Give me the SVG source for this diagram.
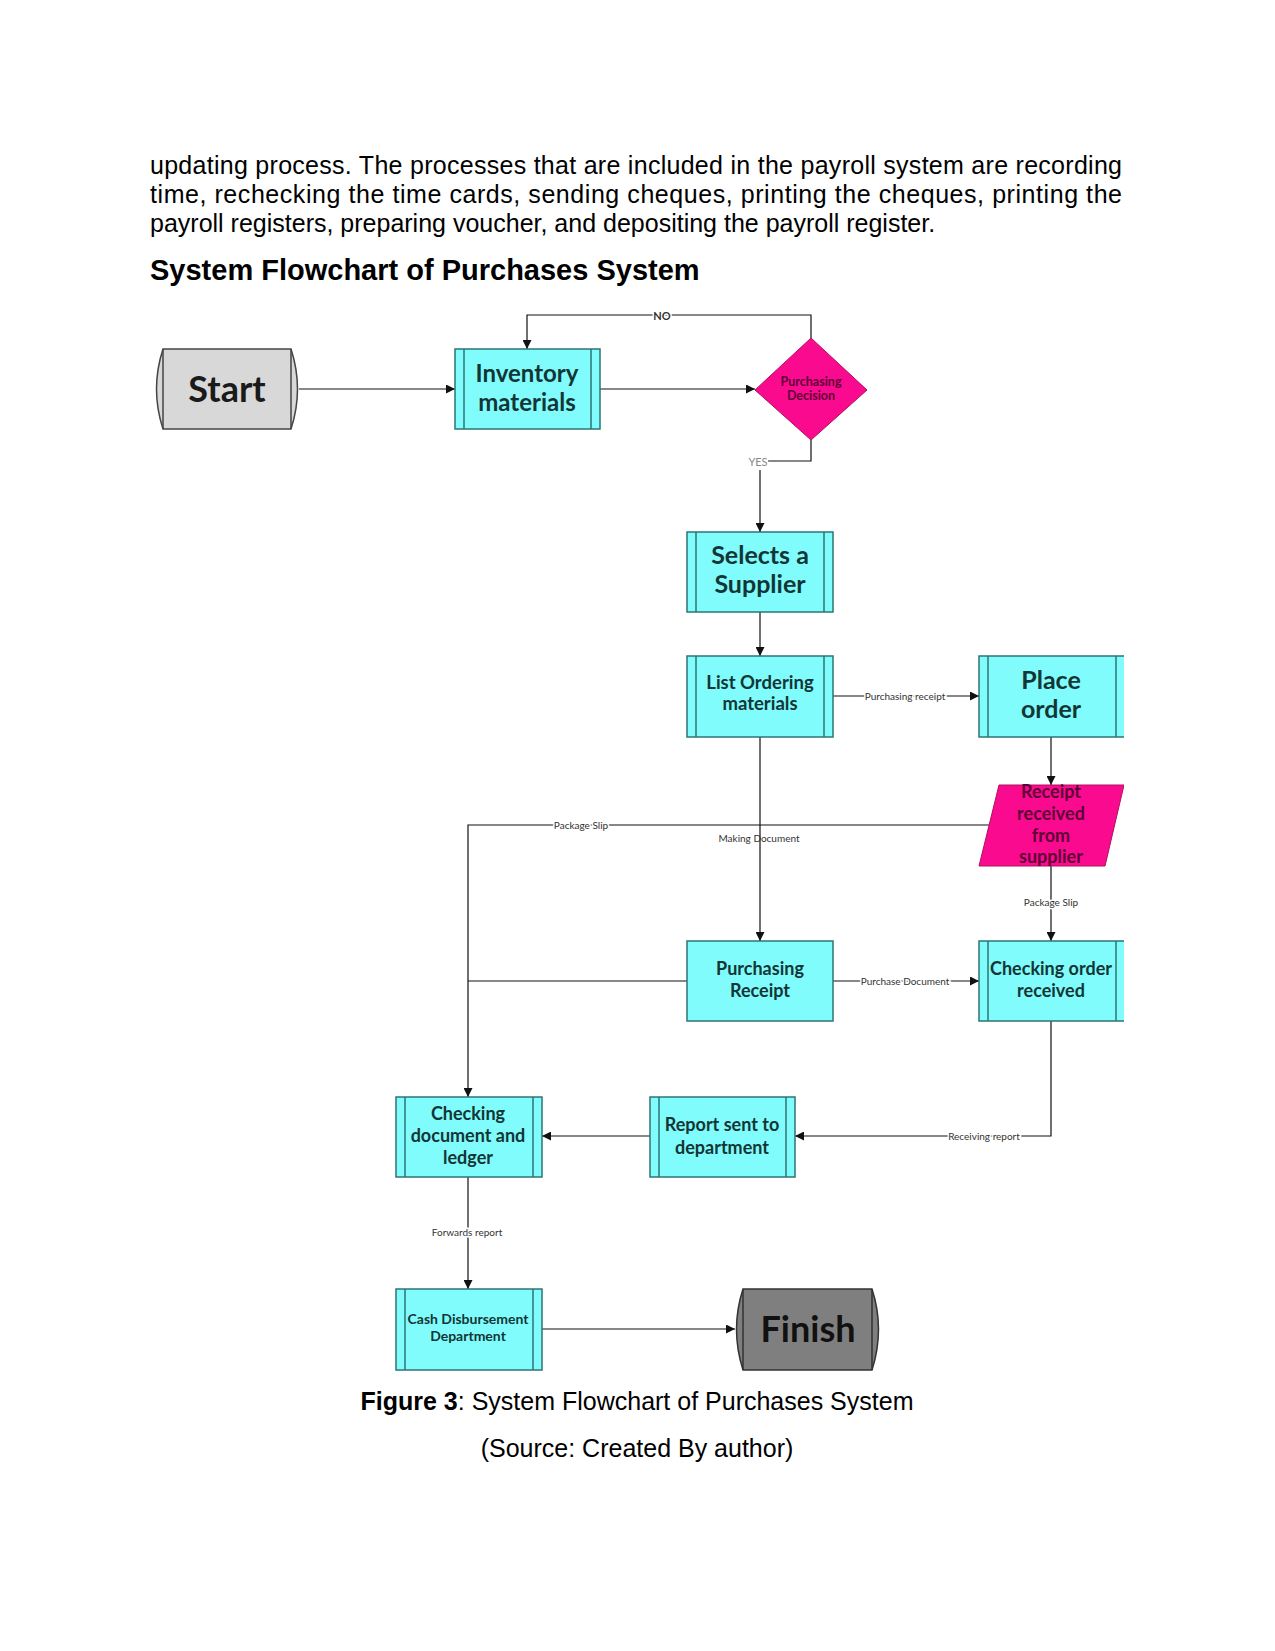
<svg xmlns="http://www.w3.org/2000/svg" width="1275" height="1651" viewBox="0 0 1275 1651">
<defs>
<style>
.para{font-family:"Liberation Sans",Arial,sans-serif;font-size:25px;fill:#000}
.head{font-family:"Liberation Sans",Arial,sans-serif;font-size:29px;font-weight:bold;fill:#000}
.box{fill:#80fcfc;stroke:#2e7474;stroke-width:1.5}
.inner{stroke:#2e7474;stroke-width:1.5;fill:none}
.nt{font-family:Lato,"Open Sans",sans-serif;font-weight:bold;fill:#123636;text-anchor:middle}
.pink{fill:#fa0a8f;stroke:#b0105f;stroke-width:1}
.pt{font-family:Lato,"Open Sans",sans-serif;font-weight:bold;fill:#5e0036;text-anchor:middle}
.con{fill:none;stroke:#111;stroke-width:1.2}
.lbl{font-family:Lato,"Open Sans",sans-serif;font-size:10px;fill:#333;text-anchor:middle;dominant-baseline:central;stroke:#fff;stroke-width:3;paint-order:stroke}
</style>
<marker id="arr" viewBox="0 0 10 10" refX="10" refY="5" markerWidth="9" markerHeight="9" markerUnits="userSpaceOnUse" orient="auto">
<path d="M0,0 L10,5 L0,10 Z" fill="#111"/>
</marker>
<clipPath id="pageclip"><rect x="0" y="0" width="1124" height="1651"/></clipPath>
</defs>
<rect width="1275" height="1651" fill="#fff"/>

<g id="text-body">
<text class="para" x="150" y="174" textLength="972" lengthAdjust="spacing">updating process. The processes that are included in the payroll system are recording</text>
<text class="para" x="150" y="203" textLength="972" lengthAdjust="spacing">time, rechecking the time cards, sending cheques, printing the cheques, printing the</text>
<text class="para" x="150" y="232">payroll registers, preparing voucher, and depositing the payroll register.</text>
<text class="head" x="150" y="280">System Flowchart of Purchases System</text>
</g>

<g id="connectors">
<path class="con" d="M299,389 H455" marker-end="url(#arr)"/>
<path class="con" d="M600,389 H755" marker-end="url(#arr)"/>
<path class="con" d="M811,338 V315 H527 V349" marker-end="url(#arr)"/>
<path class="con" d="M811,440 V461 H768"/>
<path class="con" d="M760,470 V532" marker-end="url(#arr)"/>
<path class="con" d="M760,612 V656" marker-end="url(#arr)"/>
<path class="con" d="M833,696 H979" marker-end="url(#arr)"/>
<path class="con" d="M1051,737 V785" marker-end="url(#arr)"/>
<path class="con" d="M989,825 H468 V1097" marker-end="url(#arr)"/>
<path class="con" d="M760,737 V941" marker-end="url(#arr)"/>
<path class="con" d="M1051,866 V941" marker-end="url(#arr)"/>
<path class="con" d="M687,981 H468"/>
<path class="con" d="M833,981 H979" marker-end="url(#arr)"/>
<path class="con" d="M1051,1021 V1136 H795" marker-end="url(#arr)"/>
<path class="con" d="M650,1136 H542" marker-end="url(#arr)"/>
<path class="con" d="M468,1177 V1289" marker-end="url(#arr)"/>
<path class="con" d="M542,1329 H735" marker-end="url(#arr)"/>
<text class="lbl" x="662" y="315" style="font-weight:bold;font-size:11px">NO</text>
<text class="lbl" x="758" y="461" style="fill:#888;font-size:11px">YES</text>
<text class="lbl" x="905" y="696">Purchasing receipt</text>
<text class="lbl" x="581" y="825">Package Slip</text>
<text class="lbl" x="759" y="838" style="stroke:none">Making Document</text>
<text class="lbl" x="1051" y="902">Package Slip</text>
<text class="lbl" x="905" y="981">Purchase Document</text>
<text class="lbl" x="984" y="1136">Receiving report</text>
<text class="lbl" x="467" y="1232">Forwards report</text>
</g>

<g id="start">
<path d="M163,349 H291 Q304,389 291,429 H163 Q150,389 163,349 Z" fill="#d8d8d8" stroke="#444" stroke-width="1.5"/>
<path class="inner" d="M163,349 V429 M291,349 V429" style="stroke:#444"/>
<text x="227" y="402" font-family="Lato,'Open Sans',sans-serif" font-weight="bold" font-size="36" fill="#1a1a1a" text-anchor="middle">Start</text>
</g>

<g id="inventory">
<rect class="box" x="455" y="349" width="145" height="80"/>
<path class="inner" d="M464,349 V429 M591,349 V429"/>
<text class="nt" font-size="24" x="527" y="382">Inventory</text>
<text class="nt" font-size="24" x="527" y="411">materials</text>
</g>

<g id="decision">
<polygon class="pink" points="811,338 867,390 811,440 755,390"/>
<text class="pt" font-size="12.5" x="811" y="386">Purchasing</text>
<text class="pt" font-size="12.5" x="811" y="400">Decision</text>
</g>

<g id="selects">
<rect class="box" x="687" y="532" width="146" height="80"/>
<path class="inner" d="M696,532 V612 M824,532 V612"/>
<text class="nt" font-size="25" x="760" y="564">Selects a</text>
<text class="nt" font-size="25" x="760" y="593">Supplier</text>
</g>

<g id="list-ordering">
<rect class="box" x="687" y="656" width="146" height="81"/>
<path class="inner" d="M696,656 V737 M824,656 V737"/>
<text class="nt" font-size="18.5" x="760" y="689">List Ordering</text>
<text class="nt" font-size="18.5" x="760" y="710">materials</text>
</g>

<g id="place-order" clip-path="url(#pageclip)">
<rect class="box" x="979" y="656" width="147" height="81"/>
<path class="inner" d="M988,656 V737 M1116,656 V737"/>
<text class="nt" font-size="25" x="1051" y="689">Place</text>
<text class="nt" font-size="25" x="1051" y="718">order</text>
</g>

<g id="receipt-received" clip-path="url(#pageclip)">
<polygon class="pink" points="999,785 1124,785 1105,866 979,866"/>
<text class="pt" font-size="18" x="1051" y="798">Receipt</text>
<text class="pt" font-size="18" x="1051" y="820">received</text>
<text class="pt" font-size="18" x="1051" y="842">from</text>
<text class="pt" font-size="18" x="1051" y="863">supplier</text>
</g>

<g id="purchasing-receipt">
<rect class="box" x="687" y="941" width="146" height="80"/>
<text class="nt" font-size="18" x="760" y="975">Purchasing</text>
<text class="nt" font-size="18" x="760" y="997">Receipt</text>
</g>

<g id="checking-order" clip-path="url(#pageclip)">
<rect class="box" x="979" y="941" width="147" height="80"/>
<path class="inner" d="M988,941 V1021 M1116,941 V1021"/>
<text class="nt" font-size="18" x="1051" y="975">Checking order</text>
<text class="nt" font-size="18" x="1051" y="997">received</text>
</g>

<g id="report-sent">
<rect class="box" x="650" y="1097" width="145" height="80"/>
<path class="inner" d="M659,1097 V1177 M786,1097 V1177"/>
<text class="nt" font-size="18" x="722" y="1131">Report sent to</text>
<text class="nt" font-size="18" x="722" y="1154">department</text>
</g>

<g id="checking-document">
<rect class="box" x="396" y="1097" width="146" height="80"/>
<path class="inner" d="M405,1097 V1177 M533,1097 V1177"/>
<text class="nt" font-size="18" x="468" y="1120">Checking</text>
<text class="nt" font-size="18" x="468" y="1142">document and</text>
<text class="nt" font-size="18" x="468" y="1164">ledger</text>
</g>

<g id="cash-disbursement">
<rect class="box" x="396" y="1289" width="146" height="81"/>
<path class="inner" d="M405,1289 V1370 M533,1289 V1370"/>
<text class="nt" font-size="14" x="468" y="1324">Cash Disbursement</text>
<text class="nt" font-size="14" x="468" y="1341">Department</text>
</g>

<g id="finish">
<path d="M743,1289 H872 Q885,1329 872,1370 H743 Q730,1329 743,1289 Z" fill="#7f7f7f" stroke="#333" stroke-width="1.5"/>
<path class="inner" d="M743,1289 V1370 M872,1289 V1370" style="stroke:#333"/>
<text x="808" y="1342" font-family="Lato,'Open Sans',sans-serif" font-weight="bold" font-size="36" fill="#111" text-anchor="middle">Finish</text>
</g>

<g id="caption">
<text class="para" x="637" y="1410" text-anchor="middle"><tspan font-weight="bold">Figure 3</tspan>: System Flowchart of Purchases System</text>
<text class="para" x="637" y="1457" text-anchor="middle">(Source: Created By author)</text>
</g>
</svg>
